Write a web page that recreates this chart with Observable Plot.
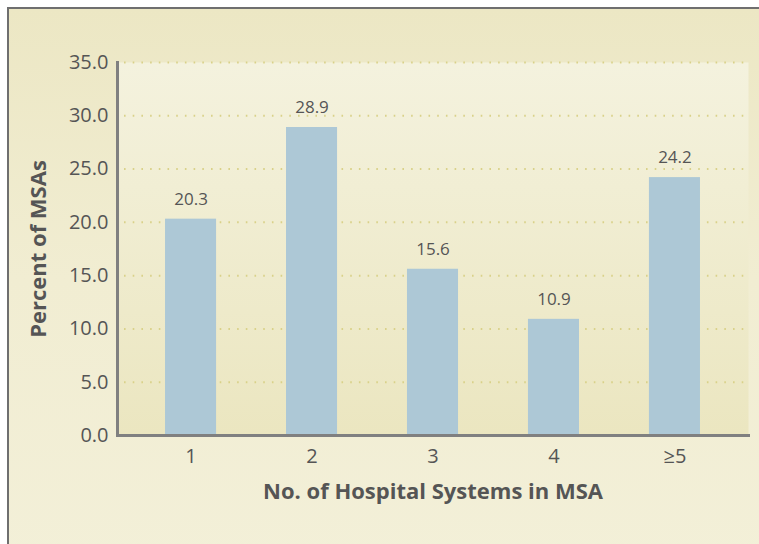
<!DOCTYPE html>
<html>
<head>
<meta charset="utf-8">
<script src="https://cdn.jsdelivr.net/npm/d3@7"></script>
<script src="https://cdn.jsdelivr.net/npm/@observablehq/plot@0.6"></script>
<style>
  html, body { margin: 0; padding: 0; background: #ffffff; overflow: hidden; }
  #panel {
    position: absolute; left: 7px; top: 7px; width: 800px; height: 600px;
    border-left: 2px solid #6f6f6f; border-top: 2px solid #6f6f6f;
    background: linear-gradient(to bottom, #ece7c4 0%, #f1edd2 45%, #f3f0d9 100%);
  }
  #chart { position: absolute; left: 0; top: 0; }
  svg { background: transparent !important; }
</style>
</head>
<body>
<div id="panel"></div>
<div id="chart"></div>
<script>
const categories = ["1", "2", "3", "4", "≥5"];
const percents = [20.3, 28.9, 15.6, 10.9, 24.2];
const yTicks = [0, 5, 10, 15, 20, 25, 30, 35];
const xTitle = "No. of Hospital Systems in MSA";
const yTitle = "Percent of MSAs";

const data = categories.map((c, i) => ({ cat: c, value: percents[i] }));
const font = "'Open Sans', 'Noto Sans', sans-serif";
const textColor = "#555555";

const plot = Plot.plot({
  width: 759,
  height: 544,
  marginLeft: 117,
  marginRight: 11,
  marginTop: 62,
  marginBottom: 109,
  style: { fontFamily: font, background: "transparent", color: textColor },
  x: { domain: categories, paddingInner: 0.578, paddingOuter: 0.397, round: false, label: null },
  y: { domain: [0, 35], label: null },
  marks: [
    Plot.frame({ fill: "url(#innerGrad)", stroke: "none" }),
    Plot.gridY(yTicks.filter(d => d > 0), { stroke: "#d9d189", strokeOpacity: 1, strokeWidth: 2, strokeDasharray: "1.6,7.1", insetLeft: 7 }),
    Plot.barY(data, { x: "cat", y: "value", fill: "#adc8d6" }),
    Plot.text(data, { x: "cat", y: "value", text: d => d.value.toFixed(1), dy: -20, fontSize: 17, fill: textColor, lineAnchor: "middle" }),
    Plot.axisY({ ticks: yTicks, tickFormat: d3.format(".1f"), tickSize: 0, tickPadding: 9, fontSize: 20, label: null, color: textColor }),
    Plot.axisX({ tickSize: 0, tickPadding: 13, fontSize: 20, label: null, color: textColor }),
    Plot.frame({ anchor: "left", stroke: "#808080", strokeWidth: 3 }),
    Plot.frame({ anchor: "bottom", stroke: "#808080", strokeWidth: 3 }),
    Plot.text([xTitle], { frameAnchor: "bottom", dy: 56, text: d => d, fontSize: 22, fontWeight: "bold", fill: textColor, lineAnchor: "middle", textAnchor: "middle" }),
    Plot.text([yTitle], { frameAnchor: "left", dx: -79, rotate: -90, text: d => d, fontSize: 22, fontWeight: "bold", fill: textColor, lineAnchor: "middle", textAnchor: "middle" })
  ]
});

const defs = d3.select(plot).insert("defs", ":first-child");
const g = defs.append("linearGradient").attr("id", "innerGrad").attr("x1", 0).attr("y1", 0).attr("x2", 0).attr("y2", 1);
g.append("stop").attr("offset", "0%").attr("stop-color", "#f4f2de");
g.append("stop").attr("offset", "100%").attr("stop-color", "#ebe6c0");

document.getElementById("chart").appendChild(plot);
</script>
</body>
</html>
